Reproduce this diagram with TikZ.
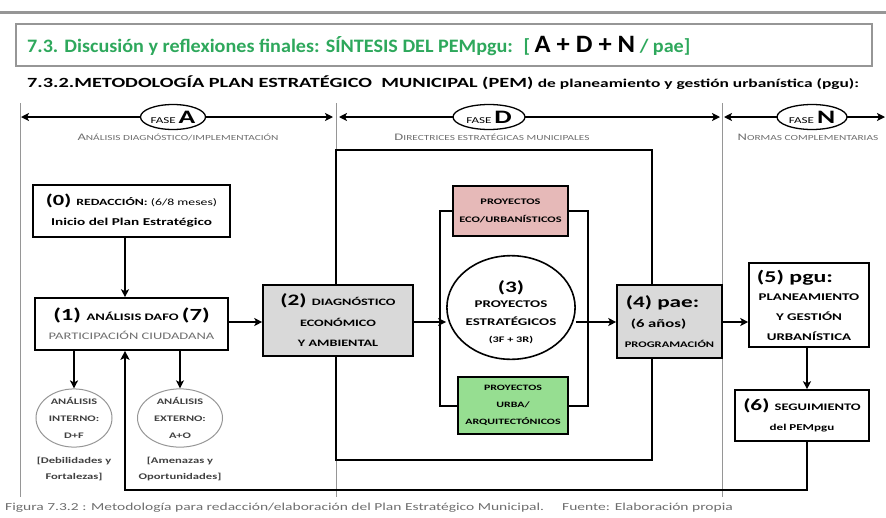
\documentclass[tikz,border=0pt]{standalone}
\usepackage{fontspec}
\setmainfont[FakeStretch=1.45]{Carlito}
\newfontfamily\titlefont[FakeStretch=1.06]{Carlito}
\usetikzlibrary{arrows.meta,shapes.geometric}
\definecolor{titlegreen}{RGB}{46,168,92}
\definecolor{boxgray}{RGB}{217,217,217}
\definecolor{pinkfill}{RGB}{230,185,184}
\definecolor{greenfill}{RGB}{150,222,145}
\definecolor{linegray}{RGB}{150,150,150}
\definecolor{textgray}{RGB}{110,110,110}
\newcommand\fsz[1]{\fontsize{#1}{#1}\selectfont}
\begin{document}
\begin{tikzpicture}[x=1pt,y=-1pt,
  box/.style={draw, line width=1.6pt, inner sep=0pt, align=center, font=\bfseries},
  grayb/.style={box, fill=boxgray},
  oval/.style={draw=linegray, line width=1pt, ellipse, inner sep=0pt, align=center, font=\bfseries},
  phaseoval/.style={draw, line width=1.3pt, ellipse, fill=white, inner sep=0pt},
  conn/.style={line width=1.8pt, -{Stealth[length=8pt,width=8pt,inset=2pt]}},
  loopline/.style={line width=2pt},
  phasearrow/.style={line width=2pt, {Stealth[length=8pt,width=8pt,inset=2pt]}-{Stealth[length=8pt,width=8pt,inset=2pt]}},
  divider/.style={draw=linegray, line width=0.8pt},
  sublabel/.style={text=textgray, inner sep=0pt}
]
\useasboundingbox (0,0) rectangle (886,517);
% top rule
\coordinate (tl) at (0,12); \coordinate (tr) at (886,12);
\draw[linegray, line width=3pt] (tl) -- (tr);
% title box
\node[draw=linegray, line width=1.2pt, minimum width=856pt, minimum height=42pt, inner sep=0pt] (titlebox) at (444,45) {};
\node[anchor=west, inner sep=0pt, font=\titlefont\bfseries, text=titlegreen] (title) at (27,46)
  {\fsz{19}7.3. Discusión y reflexiones finales: SÍNTESIS DEL PEMpgu:~ [ \textcolor{black}{\fsz{25}A + D + N} / pae]};
\node[anchor=west, inner sep=0pt, font=\bfseries] (subtitle) at (27,83)
  {\fsz{14}7.3.2.METODOLOGÍA PLAN ESTRATÉGICO~ MUNICIPAL (PEM) \fsz{12}de planeamiento y gestión urbanística (pgu):};

% dividers
\coordinate (d0t) at (20,103); \coordinate (d0b) at (20,497);
\coordinate (d1t) at (336,103); \coordinate (d1b) at (336,497);
\coordinate (d2t) at (722,103); \coordinate (d2b) at (722,497);
\draw[divider] (d0t) -- (d0b);
\draw[divider] (d1t) -- (d1b);
\draw[divider] (d2t) -- (d2b);

% phase arrows
\coordinate (pa1) at (21,117); \coordinate (pa2) at (333,117);
\coordinate (pd1) at (339,117); \coordinate (pd2) at (720,117);
\coordinate (pn1) at (724,117); \coordinate (pn2) at (885,117);
\draw[phasearrow] (pa1) -- (pa2);
\draw[phasearrow] (pd1) -- (pd2);
\draw[phasearrow] (pn1) -- (pn2);
\node[phaseoval, minimum width=65pt, minimum height=25pt] (fa) at (173,117) {\fsz{9}FASE \fsz{19}\bfseries A};
\node[phaseoval, minimum width=72pt, minimum height=25pt] (fd) at (489,117) {\fsz{9}FASE \fsz{19}\bfseries D};
\node[phaseoval, minimum width=70pt, minimum height=25pt] (fn) at (812,117) {\fsz{9}FASE \fsz{19}\bfseries N};
\node[sublabel] (la) at (178,137) {\fsz{10}A\fsz{7.8}NÁLISIS DIAGNÓSTICO/IMPLEMENTACIÓN};
\node[sublabel] (ld) at (492,137) {\fsz{10}D\fsz{7.8}IRECTRICES ESTRATÉGICAS MUNICIPALES};
\node[sublabel] (ln) at (808,137) {\fsz{10}N\fsz{7.8}ORMAS COMPLEMENTARIAS};

% boxes
\node[box, minimum width=197pt, minimum height=52pt] (b0) at (131.5,211)
  {\fsz{15.5}(0) \fsz{9.5}REDACCIÓN: \mdseries\fsz{9.5}(6/8 meses)\\[8pt] \fsz{10.5}Inicio del Plan Estratégico};
\node[box, minimum width=193pt, minimum height=52pt] (b1) at (131.5,324)
  {\fsz{17}(1) \fsz{10}ANÁLISIS DAFO \fsz{17}(7)\\[7pt] \mdseries\fsz{10}\textcolor{textgray}{PARTICIPACIÓN CIUDADANA}};
\node[grayb, minimum width=150pt, minimum height=71pt] (b2) at (338,320.5)
  {\fsz{16}(2) \fsz{9.8}DIAGNÓSTICO\\[9pt] \fsz{9.8}ECONÓMICO\\[8pt] \fsz{9.8}Y AMBIENTAL};
\node[draw, line width=1.6pt, ellipse, minimum width=115pt, minimum height=101pt, inner sep=0pt, align=center, font=\bfseries] (c3) at (511,307.5)
  {\rule{0pt}{22pt}\fsz{16}(3)\\[3pt] \fsz{10.3}PROYECTOS\\[6pt] \fsz{10.3}ESTRATÉGICOS\\[5pt] \fsz{8.5}(3F + 3R)};
\node[box, fill=pinkfill, line width=1.3pt, minimum width=115pt, minimum height=50pt] (pink) at (510.5,211)
  {\fsz{8.5}PROYECTOS\\[6pt] \fsz{8.5}ECO/URBANÍSTICOS};
\node[box, fill=greenfill, line width=1.3pt, minimum width=110pt, minimum height=57pt] (green) at (513,405.5)
  {\fsz{8.2}PROYECTOS\\[5pt] \fsz{8.2}URBA/\\[5pt] \fsz{8.2}ARQUITECTÓNICOS};
\node[grayb, minimum width=105pt, minimum height=73pt] (b4) at (669.5,321.5)
  {\hspace*{-14pt}\fsz{16}(4) pae:\\[8pt] \hspace*{-22pt}\fsz{11.5}(6 años)\\[8pt] \fsz{8.6}PROGRAMACIÓN};
\node[box, minimum width=120pt, minimum height=84pt] (b5) at (809,305)
  {\hspace*{-28pt}\fsz{16.5}(5) pgu:\\[6pt] \fsz{10.3}PLANEAMIENTO\\[8pt] \fsz{10.3}Y GESTIÓN\\[8pt] \fsz{10.3}URBANÍSTICA};
\node[box, minimum width=134pt, minimum height=51pt] (b6) at (802,415.5)
  {\fsz{16}(6) \fsz{10}SEGUIMIENTO\\[8pt] \fsz{9}del PEMpgu};

% ellipses
\node[oval, minimum width=76pt, minimum height=57pt, text=black!75] (e1) at (74,418)
  {\fsz{8.5}ANÁLISIS\\[5pt] \fsz{8.5}INTERNO:\\[5pt] \fsz{8.5}D+F};
\node[oval, minimum width=85pt, minimum height=57pt, text=black!75] (e2) at (180,418)
  {\fsz{8.5}ANÁLISIS\\[5pt] \fsz{8.5}EXTERNO:\\[5pt] \fsz{8.5}A+O};
\node[inner sep=0pt, align=center, font=\bfseries, text=black!75] (t1) at (74,469)
  {\fsz{8.7}[Debilidades y\\[4pt] \fsz{8.7}Fortalezas]};
\node[inner sep=0pt, align=center, font=\bfseries, text=black!75] (t2) at (180,469)
  {\fsz{8.7}[Amenazas y\\[4pt] \fsz{8.7}Oportunidades]};

% caption
\node[anchor=west, inner sep=0pt, text=textgray] (cap) at (5,508)
  {\fsz{10.7}Figura 7.3.2 : Metodología para redacción/elaboración del Plan Estratégico Municipal.};
\node[anchor=west, inner sep=0pt, text=textgray] (src) at (562,508)
  {\fsz{10.7}Fuente: Elaboración propia};

% coordinates for connectors
\coordinate (x125) at (125,0);
\coordinate (x807) at (807,0);
\coordinate (fb) at (0,490);
\coordinate (lt) at (336,150); \coordinate (rt) at (652,150);
\coordinate (lb) at (336,460); \coordinate (rb) at (652,460);
\coordinate (bl) at (440,0); \coordinate (br) at (588,0);

% big loop
\draw[loopline] (b2.north -| lt) -- (lt) -- (rt) -- (b4.north -| rt);
\draw[loopline] (b2.south -| lb) -- (lb) -- (rb) -- (b4.south -| rb);
% brackets
\draw[loopline] (pink.west) -- (pink.west -| bl) -- (green.west -| bl) -- (green.west);
\draw[loopline] (pink.east) -- (pink.east -| br) -- (green.east -| br) -- (green.east);

% main flow
\draw[conn] (b0.south -| x125) -- (b1.north -| x125);
\draw[conn] (b1.east |- 0,322) -- (b2.west |- 0,322);
\draw[conn] (b2.east |- 0,322) -- (c3.west |- 0,322);
\draw[conn] (c3.east |- 0,322) -- (b4.west |- 0,322);
\draw[conn] (b4.east |- 0,322) -- (b5.west |- 0,322);
\draw[conn] (b5.south -| x807) -- (b6.north -| x807);
\draw[conn] (b1.south -| e1.north) -- (e1.north);
\draw[conn] (b1.south -| e2.north) -- (e2.north);
% feedback
\draw[line width=2.4pt, -{Stealth[length=9pt,width=9pt,inset=2pt]}] (b6.south -| x807) -- (x807 |- fb) -- (x125 |- fb) -- (b1.south -| x125);
\end{tikzpicture}
\end{document}
